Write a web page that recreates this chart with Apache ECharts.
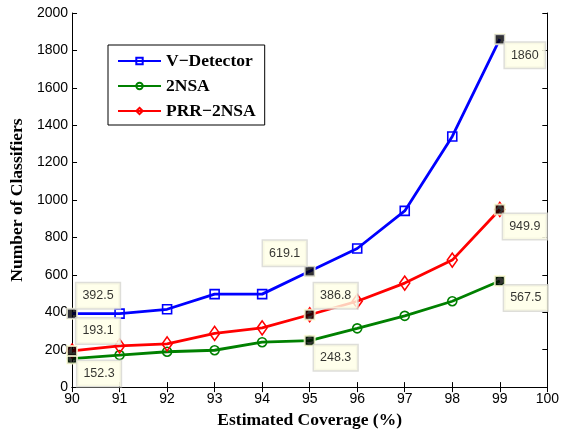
<!DOCTYPE html>
<html>
<head>
<meta charset="utf-8">
<script src="https://cdn.jsdelivr.net/npm/echarts@6/dist/echarts.min.js"></script>
<style>html,body{margin:0;padding:0;background:#fff}#c{width:562px;height:434px}</style>
</head>
<body>
<div id="c"></div>
<script>
var coverage = [90, 91, 92, 93, 94, 95, 96, 97, 98, 99];
var vDetector = [392.5, 393, 416, 497, 497, 619.1, 741, 942, 1340, 1860];
var nsa2 = [152.3, 171, 189, 197, 240, 248.3, 314, 381, 459, 567.5];
var prr2nsa = [193.1, 220, 231, 287, 317, 386.8, 459, 556, 679, 949.9];
var seriesNames = ['V\u2212Detector', '2NSA', 'PRR\u22122NSA'];
var tipIndices = [0, 5, 9];
var xTicks = [90, 91, 92, 93, 94, 95, 96, 97, 98, 99, 100];
var yTicks = [0, 200, 400, 600, 800, 1000, 1200, 1400, 1600, 1800, 2000];

var chart = echarts.init(document.getElementById('c'));
function pairs(arr){ return coverage.map(function(x,i){ return [x, arr[i]]; }); }

// label offsets for the data tips (styling, not data)
var tipOffsets = {
  '0_0':[26,-18], '0_5':[-25,-18], '0_9':[25,16],
  '2_0':[26,-20], '2_5':[26,-19], '2_9':[25,17],
  '1_0':[27,15],  '1_5':[26,17],  '1_9':[26,17]
};
var allSeries = [vDetector, nsa2, prr2nsa];
var tipData = [];
allSeries.forEach(function(arr, s){
  tipIndices.forEach(function(i){
    var v = arr[i];
    tipData.push({
      value: [coverage[i], v],
      label: { offset: tipOffsets[s + '_' + i], formatter: String(v) }
    });
  });
});

var lineCommon = { type: 'line', z: 3 };
chart.setOption({
  animation: false,
  grid: { left: 68, right: 13, top: 13, bottom: 43, containLabel: false },
  legend: {
    left: 108, top: 45, orient: 'vertical',
    data: seriesNames,
    itemWidth: 43, itemHeight: 8, itemGap: 7,
    padding: [7, 9, 5, 9],
    borderColor: '#000', borderWidth: 1, backgroundColor: '#fff',
    textStyle: { fontFamily: 'Liberation Serif', fontWeight: 'bold', fontSize: 17.5, lineHeight: 14, color: '#000' }
  },
  xAxis: [{
    type: 'value', min: 90, max: 100, interval: 1,
    name: 'Estimated Coverage (%)', nameLocation: 'middle', nameGap: 23,
    nameTextStyle: { fontFamily: 'Liberation Serif', fontWeight: 'bold', fontSize: 17.5, color: '#000' },
    axisLine: { lineStyle: { color: '#000', width: 1 } },
    axisTick: { inside: true, length: 5, lineStyle: { color: '#000' } },
    axisLabel: { fontFamily: 'Liberation Sans', fontSize: 14, color: '#000', margin: 5,
      formatter: function(v){ return String(v); } },
    splitLine: { show: false }
  }, {
    type: 'value', min: 90, max: 100, interval: 1, position: 'top',
    axisLine: { lineStyle: { color: '#000' } },
    axisTick: { inside: true, length: 5, lineStyle: { color: '#000' } },
    axisLabel: { show: false }, splitLine: { show: false }
  }],
  yAxis: [{
    type: 'value', min: 0, max: 2000, interval: 200,
    name: 'Number of Classifiers', nameLocation: 'middle', nameGap: 46,
    nameTextStyle: { fontFamily: 'Liberation Serif', fontWeight: 'bold', fontSize: 17.5, color: '#000' },
    axisLine: { show: true, lineStyle: { color: '#000' } },
    axisTick: { show: true, inside: true, length: 5, lineStyle: { color: '#000' } },
    axisLabel: { fontFamily: 'Liberation Sans', fontSize: 14, color: '#000', margin: 4,
      formatter: function(v){ return String(v); } },
    splitLine: { show: false }
  }, {
    type: 'value', min: 0, max: 2000, interval: 200, position: 'right',
    axisLine: { show: true, lineStyle: { color: '#000' } },
    axisTick: { show: true, inside: true, length: 5, lineStyle: { color: '#000' } },
    axisLabel: { show: false }, splitLine: { show: false }
  }],
  series: [
    Object.assign({}, lineCommon, {
      name: seriesNames[0], data: pairs(vDetector),
      symbol: 'rect', symbolSize: 9, showAllSymbol: true,
      lineStyle: { color: '#0000ff', width: 2.8 },
      itemStyle: { color: 'rgba(255,255,255,0)', borderColor: '#0000ff', borderWidth: 1.6 }
    }),
    Object.assign({}, lineCommon, {
      name: seriesNames[1], data: pairs(nsa2),
      symbol: 'circle', symbolSize: 9, showAllSymbol: true,
      lineStyle: { color: '#008000', width: 2.8 },
      itemStyle: { color: 'rgba(255,255,255,0)', borderColor: '#008000', borderWidth: 1.6 }
    }),
    Object.assign({}, lineCommon, {
      name: seriesNames[2], data: pairs(prr2nsa),
      symbol: 'diamond', symbolSize: [10, 14], showAllSymbol: true,
      lineStyle: { color: '#ff0000', width: 2.8 },
      itemStyle: { color: 'rgba(255,255,255,0)', borderColor: '#ff0000', borderWidth: 1.6 }
    }),
    {
      type: 'scatter', name: 'tips', data: tipData, z: 10,
      symbol: 'rect', symbolSize: 10,
      itemStyle: { color: '#000', borderColor: '#ffffd8', borderWidth: 2 },
      label: {
        show: true, position: 'inside',
        backgroundColor: '#ffffe6', borderColor: '#d6d6d0', borderWidth: 1.5,
        padding: [6, 6, 6, 6], color: '#000',
        fontFamily: 'Liberation Sans', fontSize: 12.5
      },
      emphasis: { disabled: true }
    }
  ]
});
</script>
</body>
</html>
